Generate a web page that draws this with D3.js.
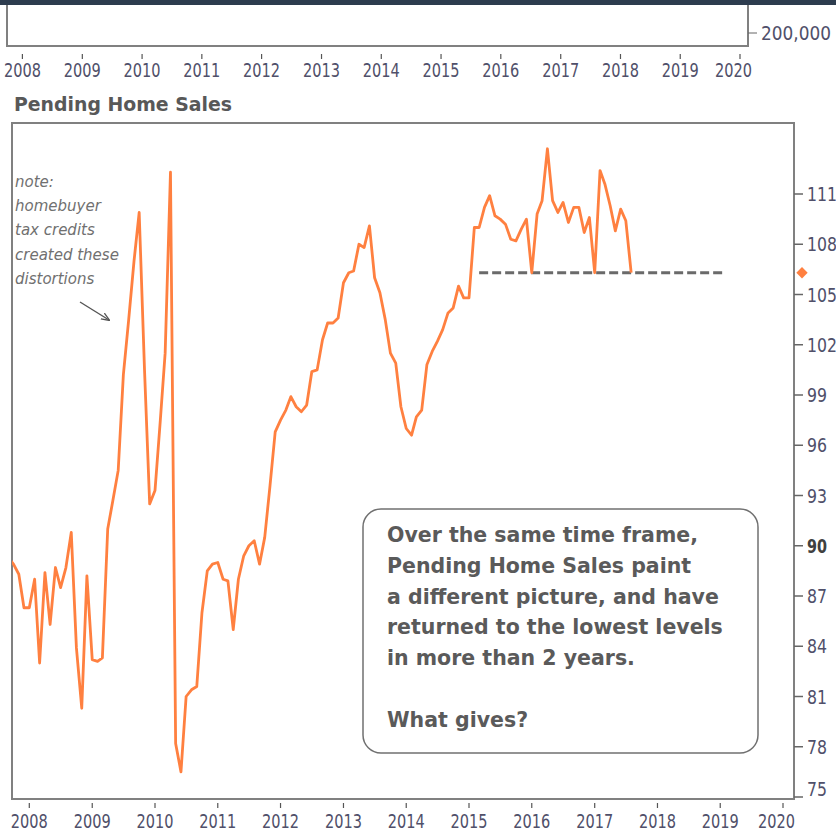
<!DOCTYPE html>
<html>
<head>
<meta charset="utf-8">
<script src="https://cdn.jsdelivr.net/npm/d3@7"></script>
<style>
  body { margin: 0; background: #fff; }
  .axisText { font-family: "DejaVu Sans Condensed", "DejaVu Sans", sans-serif; font-size: 19px; fill: #50506a; }
</style>
</head>
<body>
<div id="chart"></div>
<script>
// monthly pending home sales index, Sep 2007 .. Aug 2017
var phsValues = [
    89.3, 88.9, 88.3, 86.3,
    86.3, 88.0, 83.0, 88.4, 85.3, 88.7, 87.5, 88.7, 90.8, 83.9, 80.3, 88.2,
    83.2, 83.1, 83.3, 91.0, 92.7, 94.5, 100.2, 103.5, 107.0, 109.9, 100.5, 92.5,
    93.3, 97.5, 101.5, 112.3, 78.2, 76.5, 81.0, 81.4, 81.6, 86.0, 88.5, 88.9,
    89.0, 88.0, 87.9, 85.0, 88.0, 89.4, 90.0, 90.3, 88.9, 90.5, 93.6, 96.8,
    97.5, 98.1, 98.9, 98.3, 98.0, 98.4, 100.4, 100.5, 102.3, 103.3, 103.3, 103.6,
    105.7, 106.3, 106.4, 108.0, 107.8, 109.1, 106.0, 105.1, 103.5, 101.5, 100.9, 98.3,
    97.0, 96.6, 97.7, 98.1, 100.8, 101.6, 102.2, 102.9, 103.9, 104.2, 105.5, 104.8,
    104.8, 109.0, 109.0, 110.2, 110.9, 109.7, 109.5, 109.2, 108.3, 108.2, 108.9, 109.5,
    106.3, 109.8, 110.6, 113.7, 110.6, 109.9, 110.5, 109.3, 110.2, 110.2, 108.7, 109.6,
    106.3, 112.4, 111.6, 110.3, 108.8, 110.1, 109.4, 106.3
];
var firstMonth = new Date(2007, 8, 1);

var yearTicks = [2008, 2009, 2010, 2011, 2012, 2013, 2014, 2015, 2016, 2017, 2018, 2019, 2020];
var yTicks = [75, 78, 81, 84, 87, 90, 93, 96, 99, 102, 105, 108, 111];
var topPanelTick = ["200,000"];

// "lowest level in more than 2 years" reference
var floorLevel = 106.3;
var floorFrom = new Date(2015, 2, 1);
var floorTo = new Date(2019, 1, 1);

var titleText = "Pending Home Sales";
var noteLines = ["note:", "homebuyer", "tax credits", "created these", "distortions"];
var boxLines = ["Over the same time frame,", "Pending Home Sales paint", "a different picture, and have",
    "returned to the lowest levels", "in more than 2 years.", "", "What gives?"];

var width = 836, height = 831;

var data = phsValues.map(function(v, i) {
    return {date: d3.timeMonth.offset(firstMonth, i), value: v};
});

var svg = d3.select("#chart").append("svg")
    .attr("width", width)
    .attr("height", height);

// ---- top panel (remnant of the chart above) ----
svg.append("rect")
    .attr("x", 0).attr("y", 0)
    .attr("width", width).attr("height", 5)
    .style("fill", "#2d3c4e");

svg.append("path")
    .attr("d", "M7,5V46H748V5")
    .style("fill", "none")
    .style("stroke", "#808080")
    .style("stroke-width", 2);

var xTop = d3.scaleTime()
    .domain([new Date(2008, 0, 1), new Date(2020, 0, 1)])
    .range([22.4, 740]);

svg.append("line")
    .attr("x1", 748).attr("x2", 757)
    .attr("y1", 33).attr("y2", 33)
    .style("stroke", "#666");
svg.append("text")
    .attr("class", "axisText")
    .attr("x", 761).attr("y", 40)
    .attr("textLength", 70)
    .attr("lengthAdjust", "spacingAndGlyphs")
    .text(topPanelTick[0]);

function yearAxis(scale, tickY, labelY, lastEnd) {
    var g = svg.append("g");
    g.selectAll("line")
        .data(yearTicks)
        .enter().append("line")
        .attr("x1", function(d) { return scale(new Date(d, 0, 1)); })
        .attr("x2", function(d) { return scale(new Date(d, 0, 1)); })
        .attr("y1", tickY).attr("y2", tickY + 5)
        .style("stroke", "#555")
        .style("stroke-width", 1.2);
    g.selectAll("text")
        .data(yearTicks)
        .enter().append("text")
        .attr("class", "axisText")
        .attr("x", function(d, i) {
            return i == yearTicks.length - 1 ? lastEnd : scale(new Date(d, 0, 1));
        })
        .attr("y", labelY)
        .attr("text-anchor", function(d, i) { return i == yearTicks.length - 1 ? "end" : "middle"; })
        .attr("textLength", 37)
        .attr("lengthAdjust", "spacingAndGlyphs")
        .text(function(d) { return d; });
}
yearAxis(xTop, 54, 77, 752);

// ---- Pending Home Sales panel ----
svg.append("text")
    .attr("x", 14).attr("y", 111)
    .attr("textLength", 218)
    .attr("lengthAdjust", "spacingAndGlyphs")
    .style("font-family", "DejaVu Sans Condensed, DejaVu Sans, sans-serif")
    .style("font-weight", "bold")
    .style("font-size", "20px")
    .style("fill", "#585858")
    .text(titleText);

var plot = {left: 12, top: 123, right: 794, bottom: 799};

var x = d3.scaleTime()
    .domain([new Date(2008, 0, 1), new Date(2020, 0, 1)])
    .range([29.3, 783]);
var y = d3.scaleLinear()
    .domain([75, 111])
    .range([797, 194]);

svg.append("clipPath")
    .attr("id", "clip")
    .append("rect")
    .attr("x", plot.left).attr("y", plot.top)
    .attr("width", plot.right - plot.left)
    .attr("height", plot.bottom - plot.top);

svg.append("rect")
    .attr("x", plot.left).attr("y", plot.top)
    .attr("width", plot.right - plot.left)
    .attr("height", plot.bottom - plot.top)
    .style("fill", "none")
    .style("stroke", "#808080")
    .style("stroke-width", 2);

// right-hand value axis
var yAxis = svg.append("g");
yAxis.selectAll("line")
    .data(yTicks)
    .enter().append("line")
    .attr("x1", plot.right).attr("x2", plot.right + 9)
    .attr("y1", function(d) { return y(d); })
    .attr("y2", function(d) { return y(d); })
    .style("stroke", "#666")
    .style("stroke-width", 1.5);
yAxis.selectAll("text")
    .data(yTicks)
    .enter().append("text")
    .attr("class", "axisText")
    .attr("x", plot.right + 13)
    .attr("y", function(d) { return y(d) + (d == 75 ? -1 : 7); })
    .attr("textLength", function(d) { return String(d).length * 10; })
    .attr("lengthAdjust", "spacingAndGlyphs")
    .style("font-weight", function(d) { return d == 90 ? "bold" : null; })
    .style("fill", function(d) { return d == 90 ? "#404040" : null; })
    .text(function(d) { return d; });

yearAxis(x, 803, 828, 795);

// dashed floor line
svg.append("line")
    .attr("x1", x(floorFrom)).attr("x2", x(floorTo))
    .attr("y1", y(floorLevel)).attr("y2", y(floorLevel))
    .style("stroke", "#6a6a6a")
    .style("stroke-width", 3)
    .style("stroke-dasharray", "9,4");

var line = d3.line()
    .x(function(d) { return x(d.date); })
    .y(function(d) { return y(d.value); });

svg.append("path")
    .datum(data)
    .attr("clip-path", "url(#clip)")
    .attr("d", line)
    .style("fill", "none")
    .style("stroke", "#ff8040")
    .style("stroke-width", 2.8)
    .style("stroke-linejoin", "round");

// last value marker on the axis
var last = data[data.length - 1];
svg.append("path")
    .attr("d", d3.symbol().type(d3.symbolSquare).size(64))
    .attr("transform", "translate(" + (plot.right + 8) + "," + y(last.value) + ") rotate(45)")
    .style("fill", "#ff8040");

// note
svg.append("g").selectAll("text")
    .data(noteLines)
    .enter().append("text")
    .attr("x", 15)
    .attr("y", function(d, i) { return 187 + i * 24.2; })
    .style("font-family", "DejaVu Sans, sans-serif")
    .style("font-style", "italic")
    .style("font-size", "15px")
    .style("fill", "#707070")
    .text(function(d) { return d; });

svg.append("defs").append("marker")
    .attr("id", "arrow")
    .attr("viewBox", "0 0 10 10")
    .attr("refX", 9).attr("refY", 5)
    .attr("markerWidth", 6).attr("markerHeight", 6)
    .attr("orient", "auto")
    .append("path")
    .attr("d", "M0,1L10,5L0,9")
    .style("fill", "none")
    .style("stroke", "#555")
    .style("stroke-width", 1.6);

svg.append("line")
    .attr("x1", 80).attr("y1", 302)
    .attr("x2", 109).attr("y2", 320)
    .attr("marker-end", "url(#arrow)")
    .style("stroke", "#555")
    .style("stroke-width", 1.4);

// comment box
svg.append("rect")
    .attr("x", 363).attr("y", 509)
    .attr("width", 395).attr("height", 244)
    .attr("rx", 18).attr("ry", 18)
    .style("fill", "#fff")
    .style("stroke", "#707070")
    .style("stroke-width", 1.5);

svg.append("g").selectAll("text")
    .data(boxLines)
    .enter().append("text")
    .attr("x", 387)
    .attr("y", function(d, i) { return 542 + i * 30.8; })
    .style("font-family", "DejaVu Sans, sans-serif")
    .style("font-weight", "bold")
    .style("font-size", "20.5px")
    .style("fill", "#5a5a5a")
    .text(function(d) { return d; });
</script>
</body>
</html>
